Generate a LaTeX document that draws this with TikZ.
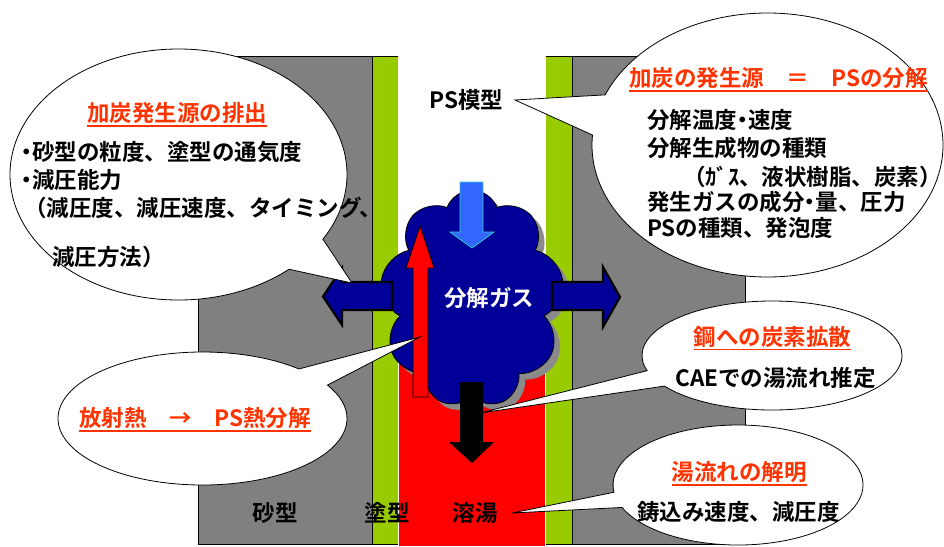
\documentclass[tikz,border=0pt]{standalone}
\usepackage{fontspec}
\setmainfont{Noto Sans CJK JP}[BoldFont={Noto Sans CJK JP Bold}]
\newfontfamily\paltfont{Noto Sans CJK JP}[BoldFont={Noto Sans CJK JP Bold}, RawFeature=+palt]
\usetikzlibrary{shapes.geometric,shapes.symbols,shapes.callouts}

\definecolor{sandgray}{HTML}{808080}
\definecolor{coatgreen}{HTML}{99CC00}
\definecolor{meltred}{HTML}{FF0000}
\definecolor{gasblue}{HTML}{000099}
\definecolor{flowblue}{HTML}{3366FF}
\definecolor{flowedge}{HTML}{33CCCC}
\definecolor{titlered}{HTML}{FF3300}
\definecolor{shadowgray}{HTML}{8A8A8A}

% underlined heading: rule hangs below the baseline of the text
\newcommand\uline[1]{\vtop{\hbox{#1}\kern1.6pt\hrule height 1.8pt}}
% narrow middle dot
\newcommand\ndot{{\paltfont ・}}

\begin{document}
\begin{tikzpicture}[x=1pt,y=-1pt,
  lbl/.style={font=\bfseries\fontsize{22.5pt}{27pt}\selectfont, inner sep=0pt, outer sep=0pt},
  ttl/.style={lbl, text=titlered},
  thinline/.style={draw=black, line width=0.8pt},
  bubble/.style={ellipse callout, draw=black, fill=white, line width=0.8pt,
    inner sep=0pt, outer sep=0pt, callout pointer arc=18},
  blockarrow/.style={fill=gasblue, draw=black, line width=2.2pt, line join=miter},
  puff/.style={cloud, cloud puffs=9, cloud puff arc=140, cloud ignores aspect,
    minimum width=184pt, minimum height=218pt, inner sep=0pt, outer sep=0pt}
]
\useasboundingbox (0,0) rectangle (944,546);

% sand mould blocks with their coating strips
\fill[sandgray] (198,56) rectangle (372,544);
\fill[coatgreen] (372,56) rectangle (398,544);
\fill[sandgray] (572,56) rectangle (745,544);
\fill[coatgreen] (546,56) rectangle (572,544);
\draw[thinline] (398,56) -- (198,56) -- (198,544) -- (398,544);
\draw[thinline] (372,56) -- (372,544);
\draw[thinline] (546,56) -- (745,56) -- (745,544) -- (546,544);
\draw[thinline] (572,56) -- (572,544);

% molten metal
\fill[meltred] (398,355) rectangle (546,546);
\draw[white, line width=0.8pt] (398.4,355) -- (398.4,546) (545.6,355) -- (545.6,546);

% decomposition gas cloud with its shadow
\node[puff, fill=shadowgray, shape border rotate=10] (gasshadow) at (478,305) {};
\node[puff, fill=gasblue, draw=black, line width=0.8pt, shape border rotate=10] (gas) at (472,299) {};

% downward flow of the pattern
\draw[fill=flowblue, draw=flowedge, line width=0.8pt]
  (460,182) -- (483,182) -- (483,232) -- (494,232) -- (472,248) -- (450,232) -- (460,232) -- cycle;

% radiant heat rising from the melt
\draw[fill=meltred, draw=black, line width=0.8pt]
  (413,397) -- (413,268) -- (406,268) -- (420,226) -- (434,268) -- (428,268) -- (428,397) -- cycle;

% metal advancing downward
\fill[black]
  (460,382) -- (483,382) -- (483,442) -- (494,442) -- (472,463) -- (449,442) -- (460,442) -- cycle;

% gas escaping sideways into the mould
\draw[blockarrow]
  (392,282) -- (342,282) -- (342,268) -- (323,296.5) -- (342,325) -- (342,310) -- (392,310) -- cycle;
\draw[blockarrow]
  (552,282) -- (603,282) -- (603,267) -- (620,297) -- (603,327) -- (603,310) -- (552,310) -- cycle;

\node[lbl, text=white, anchor=base] (gaslbl) at (489,306) {分解ガス};

% pointer targets of the callouts
\coordinate (tipA) at (352,283);
\coordinate (tipB) at (515,100);
\coordinate (tipC) at (420,337);
\coordinate (tipD) at (480,413);
\coordinate (tipE) at (512,513);

% callouts
\node[bubble, minimum width=337pt, minimum height=251pt, callout absolute pointer={(tipA)}]
  (bubA) at (178.5,174.5) {};
\node[bubble, minimum width=351pt, minimum height=264pt, callout absolute pointer={(tipB)}]
  (bubB) at (767.5,145) {};
\node[bubble, minimum width=289pt, minimum height=133pt, callout absolute pointer={(tipC)}]
  (bubC) at (202.5,418.5) {};
\node[bubble, minimum width=260pt, minimum height=109pt, callout absolute pointer={(tipD)}]
  (bubD) at (772,355.5) {};
\node[bubble, minimum width=250pt, minimum height=120pt, callout pointer arc=15,
  callout absolute pointer={(tipE)}]
  (bubE) at (738,485) {};

% texts of the upper left callout
\node[ttl, anchor=base] (ttlA) at (177,121) {\uline{加炭発生源の排出}};
\node[lbl, anchor=base west] (a1) at (21,160) {\ndot 砂型の粒度、塗型の通気度};
\node[lbl, anchor=base west] (a2) at (21,188) {\ndot 減圧能力};
\node[lbl, anchor=base west] (a3) at (24,216) {（減圧度、減圧速度、タイミング、};
\node[lbl, anchor=base west] (a4) at (52,265) {減圧方法）};

% texts of the upper right callout
\node[ttl, anchor=base] (ttlB) at (778.5,86) {\uline{加炭の発生源　＝　PSの分解}};
\node[lbl, anchor=base west] (b1) at (647,128) {分解温度\ndot 速度};
\node[lbl, anchor=base west] (b2) at (647,156) {分解生成物の種類};
\node[lbl, anchor=base west] (b3) at (683,185) {（ｶﾞｽ、液状樹脂、炭素）};
\node[lbl, anchor=base west] (b4) at (647,210) {発生ガスの成分\ndot 量、圧力};
\node[lbl, anchor=base west] (b5) at (647,236) {PSの種類、発泡度};

% texts of the lower callouts
\node[ttl, anchor=base] (ttlC) at (195,426) {\uline{放射熱　→　PS熱分解}};
\node[ttl, anchor=base] (ttlD) at (772.5,345) {\uline{鋼への炭素拡散}};
\node[lbl, anchor=base] (d1) at (775.5,386) {CAEでの湯流れ推定};
\node[ttl, anchor=base] (ttlE) at (739,480) {\uline{湯流れの解明}};
\node[lbl, anchor=base] (e1) at (738.5,520) {鋳込み速度、減圧度};

% part labels
\node[lbl, anchor=base] (pslbl) at (466.5,108) {PS模型};
\node[lbl, anchor=base] (sandlbl) at (275,521) {砂型};
\node[lbl, anchor=base] (coatlbl) at (387,521) {塗型};
\node[lbl, anchor=base] (meltlbl) at (475,521) {溶湯};
\end{tikzpicture}
\end{document}
